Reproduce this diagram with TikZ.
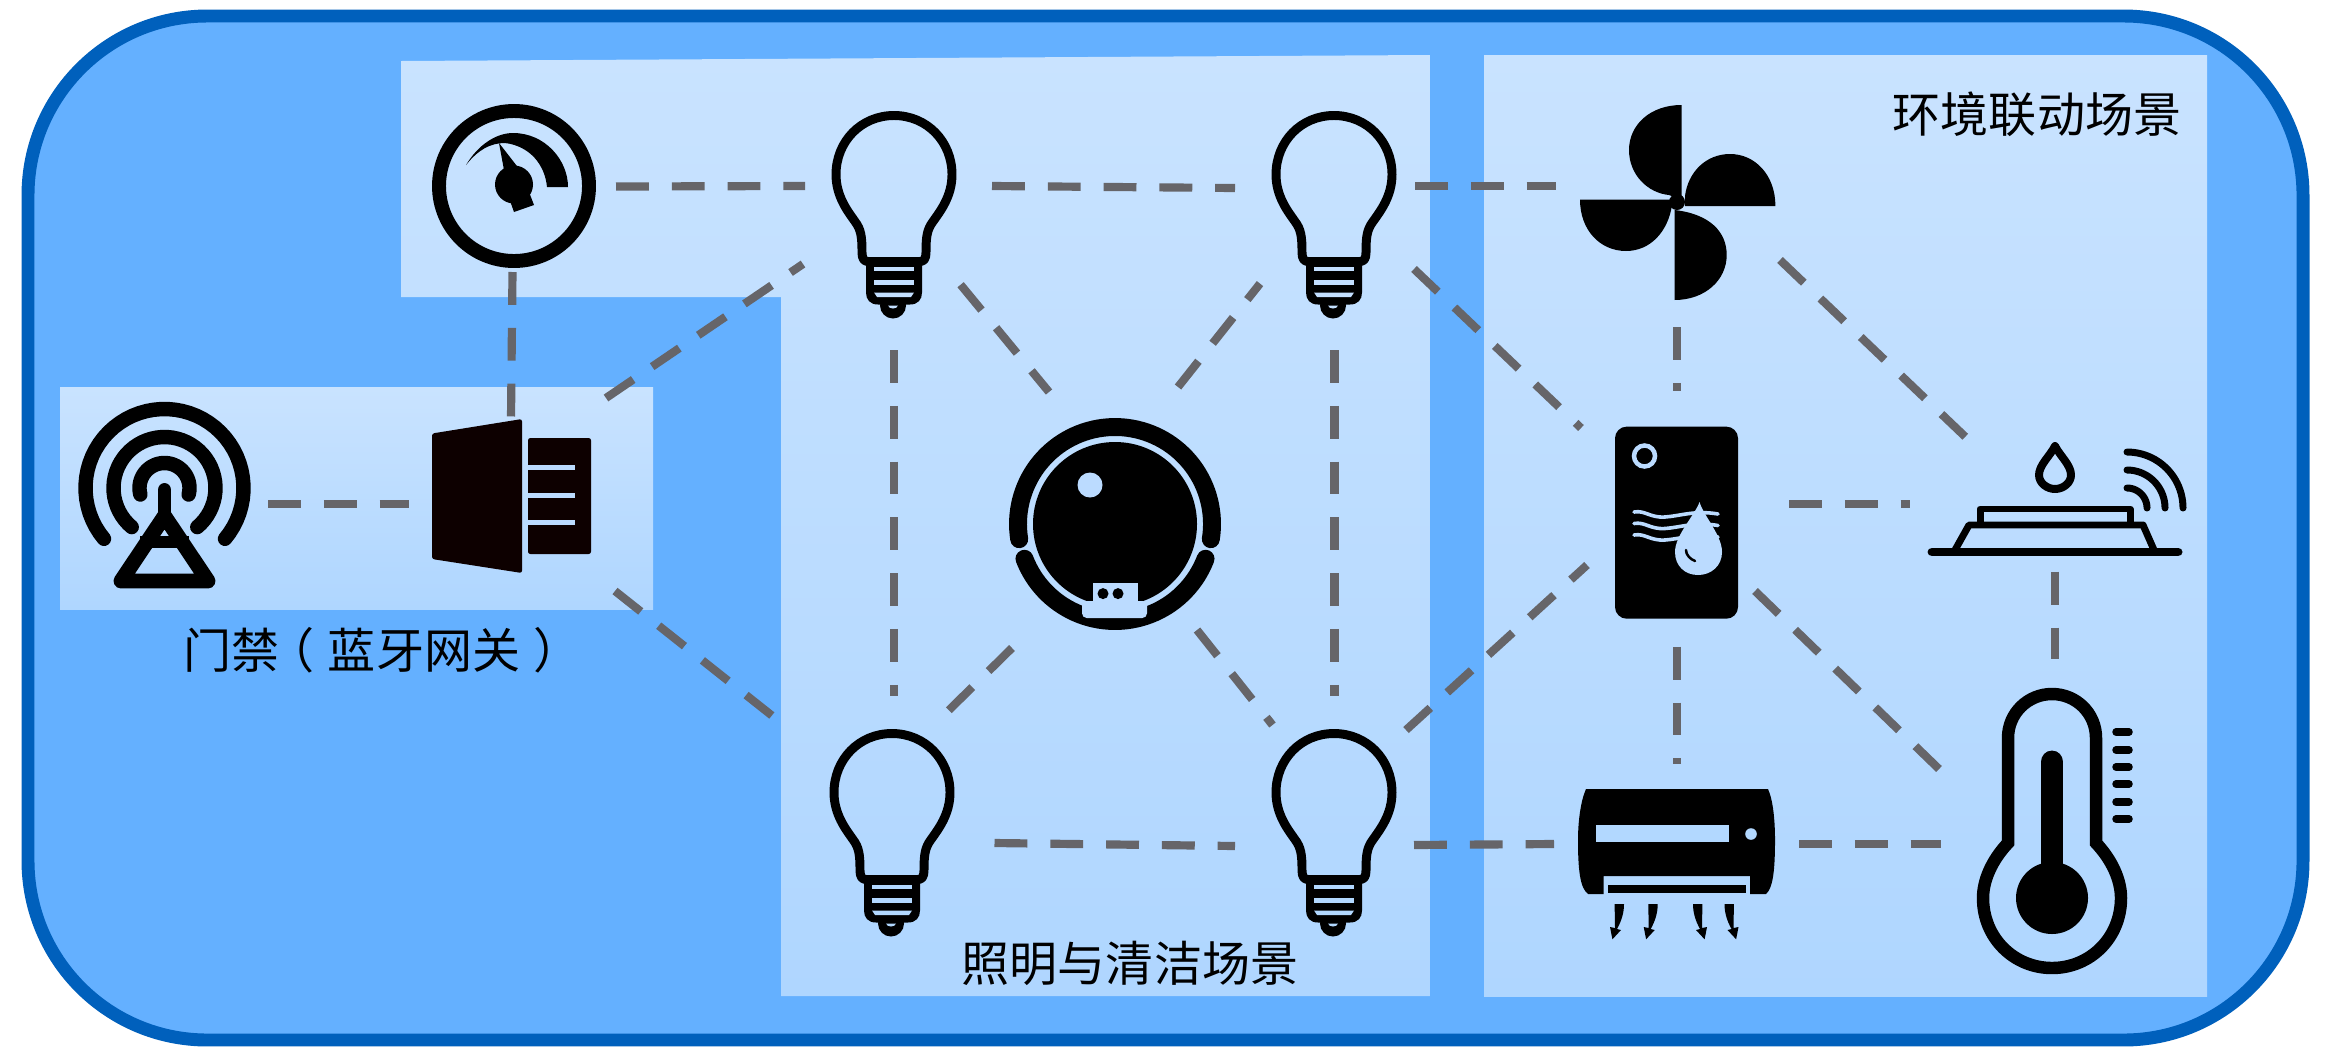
\documentclass[tikz,border=0pt]{standalone}
\usepackage{fontspec}
\usetikzlibrary{calc}
\newfontfamily\cjkfont{Noto Sans CJK SC}
\newcommand\pxu{0.8504pt}
\definecolor{framefill}{HTML}{64B0FF}
\definecolor{framedraw}{HTML}{0060BC}
\definecolor{paneltop}{HTML}{C9E3FF}
\definecolor{panelbot}{HTML}{AFD6FF}
\definecolor{linkgrey}{HTML}{666569}
\definecolor{lightA}{HTML}{C3DFFF}
\definecolor{lightB}{HTML}{BBDBFF}
\definecolor{lightC}{HTML}{B2D8FF}
\definecolor{inkblack}{HTML}{000000}
\tikzset{
  frame/.style={fill=framefill,draw=framedraw,line width=13*\pxu},
  panel/.style={top color=paneltop,bottom color=panelbot},
  connector/.style={draw=linkgrey,line width=8.2*\pxu,dash pattern=on 33*\pxu off 23*\pxu},
  anchorbox/.style={inner sep=0pt,outer sep=0pt,minimum width=#1*\pxu,minimum height=#1*\pxu},
  label/.style={font=\cjkfont\fontsize{41pt}{44pt}\selectfont,text=black,inner sep=0pt},
  icon/.style={draw=inkblack,line join=round},
  solid ink/.style={fill=inkblack},
}
\newcommand\conn[6]{\draw[connector] ([shift={(#2,#3)}]#1.center) -- ([shift={(#5,#6)}]#4.center);}
\newcommand\bulbicon[3]{%
\begin{scope}[shift={(#1,#2)}]
  \draw[icon,line width=9*\pxu] (-58,0) .. controls (-58,-33) and (-33,-59) .. (0,-59) .. controls (33,-59) and (58,-33) .. (58,0) .. controls (58,22) and (46,37) .. (39,47) .. controls (33,55) and (32,62) .. (32,78) .. controls (32,84) and (30,87) .. (26,87) -- (-26,87) .. controls (-30,87) and (-32,84) .. (-32,78) .. controls (-32,62) and (-33,55) .. (-39,47) .. controls (-46,37) and (-58,22) .. (-58,0) -- cycle;
  \fill[solid ink] (-1,131) circle (13);
  \fill[solid ink] (-28,87) -- (28,87) -- (28,118) .. controls (28,125) and (24,130) .. (16,130) -- (-16,130) .. controls (-24,130) and (-28,125) .. (-28,118) -- cycle;
  \fill[#3] (-20,92) rectangle (20,96.5);
  \fill[#3] (-20,105) rectangle (20,110);
  \fill[#3] (-20,118) -- (20,118) -- (17,122.5) -- (-17,122.5) -- cycle;
  \fill[#3] (-6,131) -- (4,131) .. controls (3,135) and (-5,135) .. (-6,131) -- cycle;
\end{scope}}
\newcommand\acarrow{\fill[solid ink] (1614.6,904) -- (1615,928) -- (1610,927) -- (1612.4,939.3) -- (1621,930) -- (1617,929) .. controls (1622,920) and (1624,912) .. (1624,904) -- cycle;}
\begin{document}
\begin{tikzpicture}[x=0.03cm,y=-0.03cm]
\useasboundingbox (0,0) rectangle (2331,1052);
\fill[white] (0,0) rectangle (2331,1052);
% frame
\draw[frame,rounded corners=153pt] (28,16) rectangle (2303,1040);
% panels
\shade[panel] (401,61) -- (1430,55) -- (1430,996) -- (781,996) -- (781,297) -- (401,297) -- cycle;
\shade[panel] (1484,55) -- (2207,55) -- (2207,996) -- (1484,996) -- cycle;
\shade[panel] (60,387) rectangle (653,609);
% anchor nodes of the icons
\node[anchorbox=164] (gauge) at (514,186) {};
\node[anchorbox=172] (antenna) at (164,492) {};
\node[anchorbox=160] (gateway) at (511,496) {};
\node[anchorbox=126] (bulbA) at (894,175) {};
\node[anchorbox=126] (bulbB) at (1334,175) {};
\node[anchorbox=126] (bulbC) at (892,793) {};
\node[anchorbox=126] (bulbD) at (1334,793) {};
\node[anchorbox=212] (robot) at (1115,524) {};
\node[anchorbox=195] (fan) at (1677,202) {};
\node[anchorbox=123] (heater) at (1677,522) {};
\node[anchorbox=160] (sensor) at (2055,497) {};
\node[anchorbox=197] (ac) at (1677,864) {};
\node[anchorbox=150] (thermo) at (2052,831) {};
% connectors
\conn{gauge}{102}{0.5}{bulbA}{-89}{11}
\conn{bulbA}{98}{11}{bulbB}{-99}{13}
\conn{bulbB}{81}{11}{fan}{-121}{-16}
\conn{gauge}{-1.5}{86}{gateway}{0}{-78}
\conn{antenna}{104}{11.7}{gateway}{-102}{7.7}
\conn{gateway}{95}{-98}{bulbA}{-91}{89}
\conn{gateway}{104}{95}{bulbC}{-117}{-75}
\conn{bulbA}{0.4}{175}{bulbC}{2.4}{-97}
\conn{bulbB}{0.5}{175}{bulbD}{0.5}{-97}
\conn{bulbA}{66.6}{109.7}{robot}{-66}{-132}
\conn{robot}{63}{-137}{bulbB}{-74}{108.6}
\conn{robot}{-103}{124}{bulbC}{55}{-81}
\conn{robot}{82}{106}{bulbD}{-61.5}{-68}
\conn{bulbC}{102.5}{50}{bulbD}{-99}{53}
\conn{bulbB}{80}{94}{heater}{-96}{-94}
\conn{fan}{0}{125}{heater}{0}{-131}
\conn{fan}{103}{58}{sensor}{-89.5}{-60}
\conn{heater}{112}{-18}{sensor}{-145}{7}
\conn{bulbD}{72}{-63}{heater}{-90}{43}
\conn{heater}{0}{124.7}{ac}{0}{-100}
\conn{heater}{78}{69}{thermo}{-113}{-62}
\conn{sensor}{0}{74.7}{thermo}{3}{-172}
\conn{bulbD}{80}{52}{ac}{-123}{-20}
\conn{ac}{122}{-20}{thermo}{-111}{13}
% gauge icon
\draw[icon,line width=14*\pxu] (514,186) circle (75);
\fill[solid ink] (466,165) .. controls (478,145) and (496,133) .. (513,133) .. controls (545,133) and (568,160) .. (568,187) -- (547,187) .. controls (545,165) and (530,146) .. (505,143) .. controls (490,143) and (478,150) .. (466,165) -- cycle;
\fill[solid ink] (514,184.5) circle (19);
\fill[solid ink] (499,143) -- (504,170) -- (520,170) -- cycle;
\fill[solid ink] (509,198) -- (514,212) -- (534,205) -- (529,192) -- cycle;
% antenna icon
\foreach \rr/\aa/\bb in {79/140/400, 51/130/410, 25/165/375}{
  \draw[icon,line width=14.5*\pxu,line cap=round] plot[domain=\aa:\bb,samples=50] ({164.5+\rr*cos(\x)},{488+\rr*sin(\x)});
}
\draw[icon,line width=14*\pxu,line cap=round] (164.5,490) -- (164.5,520);
\draw[icon,line width=15*\pxu] (164.5,516) -- (208,581) -- (121,581) -- cycle;
\draw[icon,line width=13*\pxu] (140,542) -- (189,542);
% gateway icon
\fill[fill=black!95!red,rounded corners=2pt] (432,433.5) -- (522,419) -- (522,573) -- (432,559) -- cycle;
\fill[fill=black!95!red,rounded corners=2pt] (528,438) rectangle (591,554);
\foreach \yy in {467,495,522}{\fill[lightB] (528,\yy-2.5) rectangle (575,\yy+2.5);}
% bulbs
\bulbicon{894}{174.5}{lightA}
\bulbicon{1334}{174.5}{lightA}
\bulbicon{892}{792.5}{lightC}
\bulbicon{1334}{792.5}{lightC}
% robot icon
\fill[solid ink] (1115,524) circle (82);
\draw[icon,line width=18*\pxu,line cap=round] plot[domain=171:369,samples=70] ({1115+97*cos(\x)},{524+97*sin(\x)});
\draw[icon,line width=18*\pxu,line cap=round] plot[domain=21:159,samples=50] ({1115+97*cos(\x)},{524+97*sin(\x)});
\fill[lightB] (1092.7,582.5) rectangle (1137.8,603);
\fill[lightB,rounded corners=4pt] (1082,601) rectangle (1147,618);
\fill[lightB] (1090,485) circle (12.5);
\fill[solid ink] (1103,593.6) circle (5.5) (1118,593.6) circle (5.5);
% fan icon
\fill[solid ink] (1681.6,105) .. controls (1650,105) and (1629,125) .. (1629,150) .. controls (1629,175) and (1648,193) .. (1669,195) -- (1681.6,200) -- cycle;
\fill[solid ink] (1775.4,206) -- (1685,206) -- (1685,196) .. controls (1688,172) and (1706,154) .. (1730,154) .. controls (1755,154) and (1775.4,175) .. (1775.4,206) -- cycle;
\fill[solid ink] (1580,199.7) -- (1672,199.7) -- (1672,205) .. controls (1668,232) and (1650,251) .. (1626,251) .. controls (1600,251) and (1580,230) .. (1580,199.7) -- cycle;
\fill[solid ink] (1674.5,210) -- (1674.5,300) .. controls (1705,300) and (1726.7,280) .. (1726.7,255) .. controls (1726.7,232) and (1710,214) .. (1674.5,210) -- cycle;
\fill[solid ink] (1677,202) circle (8);
% water heater icon
\fill[solid ink,rounded corners=10pt] (1615,426.6) rectangle (1738,618.7);
\draw[lightB,line width=4.5*\pxu] (1644.5,456) circle (10.5);
\foreach \dy in {0,11.5,23}{
  \draw[lightB,line width=3.6*\pxu,line cap=round] (1634,{512+\dy}) .. controls (1645,{510+\dy}) and (1650,{518+\dy}) .. (1665,{517+\dy}) .. controls (1680,{516+\dy}) and (1695,{510+\dy}) .. (1718,{514+\dy});
}
\fill[lightB] (1699.5,502) .. controls (1703,515) and (1722,535) .. (1722,552) .. controls (1722,566) and (1711,575) .. (1698,575) .. controls (1685,575) and (1675,566) .. (1675,552) .. controls (1675,535) and (1695,515) .. (1699.5,502) -- cycle;
\draw[icon,line width=2.5*\pxu,line cap=round] (1686,550) .. controls (1686,555) and (1690,559) .. (1695,561);
% sensor icon
\draw[icon,line width=8*\pxu] (2055,446) .. controls (2060,456) and (2071,465) .. (2071,475) .. controls (2071,483) and (2063,489) .. (2055,489) .. controls (2047,489) and (2039,483) .. (2039,475) .. controls (2039,465) and (2050,456) .. (2055,446) -- cycle;
\foreach \rr in {20,38,56}{
  \draw[icon,line width=7*\pxu,line cap=round] plot[domain=270:360,samples=25] ({2127+\rr*cos(\x)},{508+\rr*sin(\x)});
}
\draw[icon,line width=7*\pxu] (1980,525) -- (1980,509) -- (2130,509) -- (2130,525);
\draw[icon,line width=7*\pxu] (1955,550) -- (1969,525) -- (2143,525) -- (2154,550);
\draw[icon,line width=9*\pxu,line cap=round] (1932,552) -- (2178,552);
% air conditioner icon
\fill[solid ink] (1586,789) -- (1768,789) .. controls (1773,800) and (1775,820) .. (1775,840) .. controls (1775,870) and (1773,888) .. (1766,894) -- (1750,894) -- (1750,876) -- (1603.5,876) -- (1603.5,894) -- (1588,894) .. controls (1580,888) and (1578,870) .. (1578,840) .. controls (1578,820) and (1581,800) .. (1586,789) -- cycle;
\fill[lightC] (1596,825) rectangle (1729,842);
\fill[lightC] (1751,834) circle (5.8);
\fill[solid ink] (1608,885) rectangle (1746,893);
\acarrow
\begin{scope}[xshift=33.7*0.03cm]\acarrow\end{scope}
\begin{scope}[shift={(3317,0)},xscale=-1]\acarrow\end{scope}
\begin{scope}[shift={(3348.5,0)},xscale=-1]\acarrow\end{scope}
% thermometer icon
\draw[draw=inkblack,line width=12.5*\pxu,line join=miter] (2008,843) -- (2008,738) .. controls (2008,713) and (2028,694) .. (2052,694) .. controls (2076,694) and (2096,713) .. (2096,738) -- (2096,843) .. controls (2112,860) and (2121,880) .. (2121,898) .. controls (2121,938) and (2090,968) .. (2052,968) .. controls (2014,968) and (1983,938) .. (1983,898) .. controls (1983,880) and (1992,860) .. (2008,843) -- cycle;
\fill[solid ink] (2052,898) circle (36);
\draw[icon,line width=23*\pxu,line cap=round] (2052,762) -- (2052,880);
\foreach \yy in {732,750,767,784,802,819}{\draw[icon,line width=7.5*\pxu,line cap=round] (2116,\yy) -- (2129,\yy);}
% labels
\node[label] (doorlabel) at (376,650) {门禁\kern-0.27em（\kern0.27em蓝牙网关\kern0.27em）\kern-0.27em};
\node[label] (envlabel) at (2037,114) {环境联动场景};
\node[label] (lightlabel) at (1130,963) {照明与清洁场景};
\end{tikzpicture}
\end{document}
